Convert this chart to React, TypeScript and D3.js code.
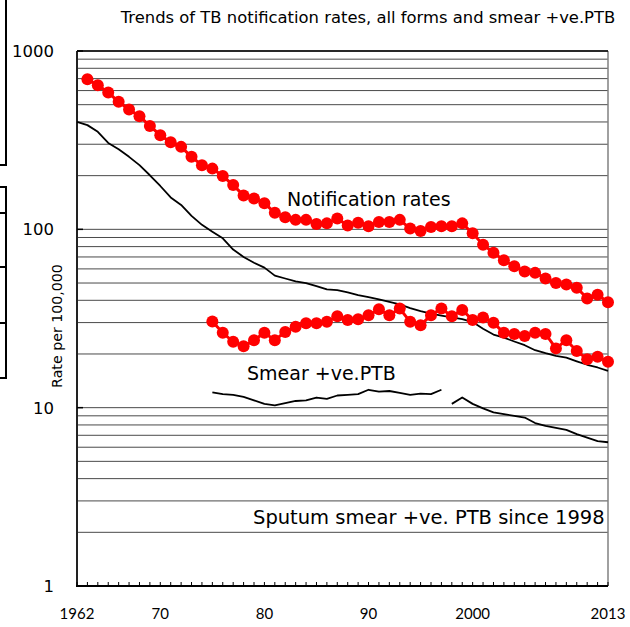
import * as d3 from "d3";

// TB notification rates per 100,000
const firstYear = 1962;
const lastYear = 2013;

// all forms, notification (red dots), from 1963
const notifAllStart = 1963;
const notifAll = [
  695, 643, 585, 519, 470, 431, 380, 337, 308, 290, 255, 229, 219, 199, 177, 155,
  149, 140, 124, 117, 113, 113, 107, 108, 115, 105, 109, 104, 110, 110, 113, 101,
  98, 103, 104, 104, 108, 95, 82, 74, 67, 62, 58, 57, 53, 50, 49, 47, 41, 43, 39,
];

// smear +ve PTB notification (red dots), from 1975
const notifSmearStart = 1975;
const notifSmear = [
  30.4, 26.3, 23.4, 22.1, 23.9, 26.3, 23.9, 26.6, 28.4, 29.7, 29.7, 30.3, 32.6,
  31.0, 31.3, 33.0, 35.6, 33.0, 36.0, 30.3, 29.0, 33.0, 36.0, 32.6, 35.3, 31.0,
  32.0, 29.9, 26.3, 25.9, 25.2, 26.3, 25.9, 21.5, 23.9, 20.8, 18.7, 19.3, 18.1,
];

// black line, all forms, from 1962
const lineAllStart = 1962;
const lineAll = [
  400, 384, 352, 305, 281, 255, 229, 201, 175, 151, 137, 119, 106, 97, 89, 77, 70,
  65, 61, 55, 53, 51, 50, 48, 46, 45.6, 44.3, 42.8, 41.7, 40.5, 39.2, 37.9, 36.2,
  34.8, 33.7, 32.8, 32.1, 31.4, 30.2, 27.7, 25.7, 24.7, 23.5, 22.4, 21.0, 20.2,
  19.5, 19.1, 18.2, 17.4, 16.8, 16.1,
];

// black line, smear +ve PTB, 1975-1997
const smearOldStart = 1975;
const smearOld = [
  12.2, 11.9, 11.8, 11.5, 11.0, 10.5, 10.3, 10.6, 10.9, 11.0, 11.4, 11.2, 11.7,
  11.8, 11.9, 12.6, 12.3, 12.4, 12.1, 11.8, 12.0, 11.9, 12.6,
];

// black line, sputum smear +ve PTB since 1998
const smearNewStart = 1998;
const smearNew = [10.5, 11.4, 10.5, 9.9, 9.4, 9.2, 9.0, 8.8, 8.2, 7.9, 7.7, 7.5, 7.1, 6.8, 6.5, 6.4];

const xTickYears = [1962, 1970, 1980, 1990, 2000, 2013];
const xTickLabels = ["1962", "70", "80", "90", "2000", "2013"];
const yMajorTicks = [1, 10, 100, 1000];

const toPoints = (start: number, vals: number[]) =>
  vals.map((v, i) => ({ year: start + i, value: v }));

const W = 630;
const H = 627;
const plot = { left: 77, right: 608, top: 51, bottom: 586 };
const verdana = "DejaVu Sans, Verdana, sans-serif";

export default function App() {
  const x = d3.scaleLinear().domain([firstYear, lastYear]).range([plot.left, plot.right]);
  const y = d3.scaleLog().domain([1, 1000]).range([plot.bottom, plot.top]);

  const line = d3
    .line<{ year: number; value: number }>()
    .x((d) => x(d.year))
    .y((d) => y(d.value));

  const redAll = toPoints(notifAllStart, notifAll);
  const redSmear = toPoints(notifSmearStart, notifSmear);
  const gridVals = y.ticks();
  const years = d3.range(firstYear, lastYear + 1);

  return (
    <div>
      <style>{`body{margin:0}`}</style>
      <svg width={W} height={H} style={{ display: "block", background: "#fff" }}>
        {/* bits of neighbouring charts cut at the left edge */}
        <g stroke="#000" strokeWidth={2} fill="none">
          <path d="M0,165 H6 V0" />
          <path d="M0,187 H6 V378 H0" />
          <path d="M0,213 H6 M0,267 H6 M0,323 H6" />
        </g>

        <text x={368} y={23} textAnchor="middle" fontFamily={verdana} fontSize={16.4} fill="#000">
          Trends of TB notification rates, all forms and smear +ve.PTB
        </text>

        {/* gridlines */}
        <g stroke="#4a4a4a" strokeWidth={1}>
          {gridVals.map((v) => (
            <line key={v} x1={plot.left} x2={plot.right} y1={y(v)} y2={y(v)} />
          ))}
        </g>

        {/* frame */}
        <line x1={plot.right} x2={plot.right} y1={plot.top} y2={plot.bottom} stroke="#808080" strokeWidth={1.5} />
        <line x1={plot.left} x2={plot.right} y1={plot.top} y2={plot.top} stroke="#000" strokeWidth={1.5} />
        <line x1={plot.left} x2={plot.left} y1={plot.top} y2={plot.bottom + 1} stroke="#222" strokeWidth={2} />
        <line x1={plot.left - 1} x2={plot.right} y1={plot.bottom} y2={plot.bottom} stroke="#000" strokeWidth={2} />

        {/* ticks */}
        <g stroke="#000" strokeWidth={1}>
          {years.map((yr) => (
            <line key={yr} x1={x(yr)} x2={x(yr)} y1={plot.bottom} y2={plot.bottom - 4} />
          ))}
          {yMajorTicks.map((v) => (
            <line key={v} x1={plot.left} x2={plot.left + 6} y1={y(v)} y2={y(v)} strokeWidth={1.5} />
          ))}
        </g>

        {/* y labels */}
        {yMajorTicks.map((v) => (
          <text key={v} x={54} y={y(v) + 6} textAnchor="end" fontFamily={verdana} fontSize={16.5} fill="#000">
            {v}
          </text>
        ))}
        <text
          transform={`translate(62,326) rotate(-90)`}
          textAnchor="middle"
          fontFamily={verdana}
          fontSize={14.2}
          fill="#000"
        >
          Rate per 100,000
        </text>

        {/* x labels */}
        {xTickYears.map((yr, i) => (
          <text key={yr} x={x(yr)} y={619} textAnchor="middle" fontFamily="Lato, Carlito, sans-serif" fontSize={15} fill="#000">
            {xTickLabels[i]}
          </text>
        ))}

        {/* black lines */}
        <g fill="none" stroke="#000" strokeWidth={1.8} strokeLinejoin="round">
          <path d={line(toPoints(lineAllStart, lineAll)) || ""} />
          <path d={line(toPoints(smearOldStart, smearOld)) || ""} />
          <path d={line(toPoints(smearNewStart, smearNew)) || ""} />
        </g>

        {/* red series */}
        {[redAll, redSmear].map((pts, k) => (
          <g key={k}>
            <path d={line(pts) || ""} fill="none" stroke="#ff0000" strokeWidth={3} />
            {pts.map((p) => (
              <circle key={p.year} cx={x(p.year)} cy={y(p.value)} r={6} fill="#ff0000" />
            ))}
          </g>
        ))}

        {/* annotations */}
        <text x={287} y={206} fontFamily={verdana} fontSize={19} fill="#000">
          Notification rates
        </text>
        <text x={247} y={380} fontFamily={verdana} fontSize={19} fill="#000">
          Smear +ve.PTB
        </text>
        <text x={253} y={524} fontFamily={verdana} fontSize={19.5} fill="#000">
          Sputum smear +ve. PTB since 1998
        </text>
      </svg>
    </div>
  );
}
